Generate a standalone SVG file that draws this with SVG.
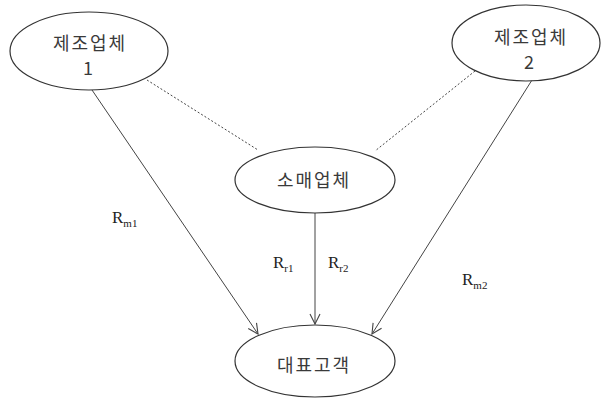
<svg xmlns="http://www.w3.org/2000/svg" width="603" height="398" viewBox="0 0 603 398">
<style>
.node ellipse{fill:#fff;stroke:#333;stroke-width:1.2}
.kr{font-family:"Noto Sans CJK KR","Noto Sans",sans-serif;font-size:18px;fill:#3a3a3a;text-anchor:middle;letter-spacing:2px}
.lbl{font-family:"Liberation Serif",serif;font-size:17px;fill:#222}
.sub{font-size:11px}
.solid{stroke:#444;stroke-width:1;fill:none}
.dash{stroke:#444;stroke-width:1;fill:none;stroke-dasharray:2 2}
</style>
<defs>
<marker id="arr" viewBox="0 0 12 12" refX="11" refY="6" markerWidth="12" markerHeight="12" markerUnits="userSpaceOnUse" orient="auto">
<path d="M1,1 L11,6 L1,11" fill="none" stroke="#444" stroke-width="1.1"/>
</marker>
</defs>
<rect width="603" height="398" fill="#fff"/>
<g id="connectors">
<line class="dash" x1="147" y1="80" x2="258" y2="150"/>
<line class="dash" x1="475" y1="71" x2="375" y2="151"/>
<line class="solid" x1="92" y1="90" x2="258" y2="334" marker-end="url(#arr)"/>
<line class="solid" x1="532" y1="80" x2="372" y2="334" marker-end="url(#arr)"/>
<line class="solid" x1="315" y1="213" x2="315" y2="324" marker-end="url(#arr)"/>
</g>
<g id="manufacturer1" class="node">
<ellipse cx="89" cy="51" rx="79" ry="39"/>
<text class="kr" x="90" y="50">제조업체</text>
<text class="kr" x="89" y="75">1</text>
</g>
<g id="manufacturer2" class="node">
<ellipse cx="526" cy="43" rx="74" ry="38"/>
<text class="kr" x="531" y="44">제조업체</text>
<text class="kr" x="530" y="69">2</text>
</g>
<g id="retailer" class="node">
<ellipse cx="315" cy="180" rx="80" ry="33"/>
<text class="kr" x="314" y="187">소매업체</text>
</g>
<g id="customer" class="node">
<ellipse cx="315" cy="361" rx="80" ry="36"/>
<text class="kr" x="314" y="372">대표고객</text>
</g>
<g id="labels">
<text class="lbl" x="112" y="223">R<tspan class="sub" dy="4">m1</tspan></text>
<text class="lbl" x="273" y="268">R<tspan class="sub" dy="4">r1</tspan></text>
<text class="lbl" x="328" y="268">R<tspan class="sub" dy="4">r2</tspan></text>
<text class="lbl" x="462" y="285">R<tspan class="sub" dy="4">m2</tspan></text>
</g>
</svg>
